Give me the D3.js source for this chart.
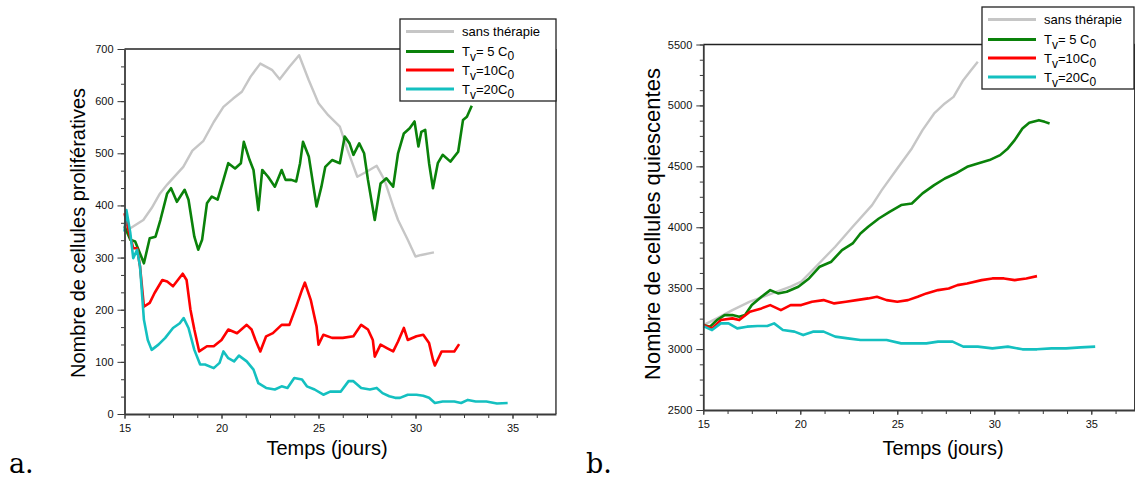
<!DOCTYPE html>
<html>
<head>
<meta charset="utf-8">
<script src="https://cdn.jsdelivr.net/npm/d3@7"></script>
<style>
  html, body { margin: 0; padding: 0; background: #fff; }
  svg { display: block; font-family: "Liberation Sans", Arial, sans-serif; }
</style>
</head>
<body>
<svg id="chart" width="1135" height="479"></svg>
<script>
// ---------- DATA ----------
const seriesNames = ["sans thérapie", "Tv= 5 C0", "Tv=10C0", "Tv=20C0"];
const seriesColors = ["#c6c6c6", "#0a820a", "#ff0000", "#14c0c0"];

const xTicks = [15, 20, 25, 30, 35];
const yTicksA = [0, 100, 200, 300, 400, 500, 600, 700];
const yTicksB = [2500, 3000, 3500, 4000, 4500, 5000, 5500];

// Panel a: proliferative cells
const tA_grey = [15.2,15.97,16.4,16.83,17.2,18.03,18.5,19.07,19.6,20.1,20.6,21.05,21.5,22.0,22.6,23.0,23.5,24.0,24.5,25.0,25.5,26.1,26.5,27.0,27.5,28.0,28.4,28.85,29.1,29.6,30.0,30.3,30.95];
const vA_grey = [354,372,395,423,440,474,505,524,560,589,605,618,647,672,660,642,666,688,640,596,573,551,506,455,465,476,449,398,372,334,302,305,310];

const tA_green = [15.0,15.3,15.55,15.8,16.0,16.3,16.6,16.85,17.2,17.4,17.7,18.1,18.3,18.6,18.8,19.0,19.25,19.5,19.8,20.1,20.35,20.7,21.0,21.15,21.45,21.65,21.9,22.1,22.4,22.75,23.1,23.3,23.6,23.85,24.05,24.2,24.5,24.9,25.15,25.35,25.7,26.1,26.35,26.6,26.8,27.1,27.35,27.55,27.9,28.2,28.5,28.85,29.1,29.4,29.7,29.95,30.15,30.3,30.5,30.7,30.9,31.15,31.4,31.8,32.2,32.45,32.65,32.9];
const vA_green = [360,334,331,308,289,337,340,372,423,433,407,430,411,340,315,334,404,417,411,449,481,471,481,522,487,468,391,468,455,436,468,449,449,446,481,522,494,398,436,474,487,481,532,519,497,519,500,449,372,442,452,436,500,538,548,561,513,541,545,481,433,481,497,484,503,564,570,591];

const tA_red = [15.0,15.2,15.45,15.65,15.8,16.0,16.3,16.55,16.95,17.2,17.5,17.75,18.0,18.2,18.4,18.6,18.85,19.25,19.6,20.0,20.35,20.8,21.3,21.55,21.75,22.0,22.3,22.65,23.1,23.5,23.85,24.15,24.3,24.6,24.9,25.0,25.25,25.7,26.25,26.8,27.2,27.55,27.8,27.9,28.2,28.55,28.85,29.1,29.4,29.6,30.05,30.4,30.7,30.9,31.0,31.35,31.75,32.0,32.25];
const vA_red = [385,353,318,318,283,206,213,232,257,254,245,257,269,257,200,162,120,130,130,142,162,155,171,162,142,120,149,155,171,171,206,238,252,219,168,133,152,146,146,149,171,162,142,110,133,126,120,139,165,142,149,152,136,104,93,120,120,120,134];

const tA_cyan = [15.0,15.1,15.3,15.45,15.65,15.8,16.0,16.2,16.4,16.75,17.1,17.5,17.85,18.05,18.3,18.6,18.9,19.15,19.6,19.9,20.1,20.35,20.65,20.9,21.3,21.65,21.9,22.3,22.75,23.1,23.4,23.75,24.15,24.4,24.8,25.25,25.6,26.15,26.55,26.8,27.2,27.65,28.0,28.3,28.65,28.95,29.2,29.6,30.05,30.4,30.7,31.0,31.4,32.0,32.35,32.7,33.1,33.65,34.2,34.75];
const vA_cyan = [350,391,347,299,315,283,181,142,123,133,146,165,174,184,165,123,95,95,88,98,120,107,101,112,101,85,59,50,47,53,50,69,66,53,47,37,43,43,63,63,50,47,50,40,34,31,31,37,37,35,31,21,24,24,21,27,24,24,20,21];

// Panel b: quiescent cells
const tB_grey = [15.0,15.7,16.5,17.4,18.55,19.5,20.05,20.8,21.8,22.7,23.7,24.2,25.0,25.75,26.3,26.9,27.45,27.9,28.4,28.8,29.15];
const vB_grey = [3197,3252,3320,3389,3457,3512,3553,3676,3840,4004,4182,4305,4482,4647,4797,4934,5016,5070,5207,5289,5358];

const tB_green = [15.0,15.35,15.7,16.1,16.5,16.85,17.15,17.5,18.0,18.45,18.85,19.3,19.9,20.45,21.0,21.6,22.15,22.7,23.1,23.5,24.05,24.6,25.2,25.75,26.3,26.9,27.45,28.0,28.6,29.15,29.75,30.3,30.7,31.05,31.45,31.8,32.3,32.6,32.85];
const vB_green = [3197,3184,3238,3279,3279,3266,3279,3361,3430,3484,3457,3471,3512,3580,3676,3717,3813,3867,3949,4004,4072,4127,4182,4195,4278,4346,4400,4441,4496,4524,4551,4592,4647,4715,4811,4857,4879,4865,4852];

const tB_red = [15.0,15.45,15.9,16.5,16.85,17.4,18.0,18.45,19.0,19.5,20.05,20.6,21.2,21.75,22.35,22.9,23.5,23.95,24.45,25.0,25.55,26.05,26.5,27.1,27.65,28.1,28.6,29.35,29.9,30.5,31.05,31.65,32.2];
const vB_red = [3197,3170,3238,3252,3238,3307,3334,3361,3320,3361,3361,3389,3402,3375,3389,3402,3416,3430,3402,3389,3402,3430,3457,3484,3498,3525,3539,3566,3580,3580,3566,3580,3599];

const tB_cyan = [15.0,15.45,15.9,16.3,16.75,17.25,17.8,18.3,18.65,19.1,19.7,20.15,20.65,21.2,21.8,22.45,23.1,23.85,24.45,25.2,25.95,26.5,27.1,27.85,28.4,29.15,29.9,30.7,31.45,32.2,32.95,33.7,34.45,35.2];
const vB_cyan = [3189,3156,3211,3211,3170,3184,3189,3189,3211,3156,3143,3115,3143,3143,3102,3088,3074,3074,3074,3047,3047,3047,3061,3061,3020,3020,3006,3020,2998,2998,3006,3006,3014,3020];

// ---------- DRAWING ----------
const svg = d3.select("#chart");
const axisColor = "#3a3a3a";
const sans = "'Liberation Sans', Arial, sans-serif";

function zip(t, v) { return t.map((x, i) => ({ t: x, v: v[i] })); }

function panel(cfg) {
  const x = d3.scaleLinear().domain([15, 37.24]).range([cfg.x0, cfg.x0 + 22.24 * 19.4]);
  const y = d3.scaleLinear().domain(cfg.yDomain).range([cfg.yBottom, cfg.yTop]);
  const g = svg.append("g");

  // frame: top and right borders
  g.append("line").attr("x1", x(15)).attr("x2", x(37.24)).attr("y1", cfg.yTop).attr("y2", cfg.yTop)
    .attr("stroke", "#222").attr("stroke-width", 1.3);
  g.append("line").attr("x1", x(37.24)).attr("x2", x(37.24)).attr("y1", cfg.yTop).attr("y2", cfg.yBottom)
    .attr("stroke", "#222").attr("stroke-width", 1.3);

  // series
  const line = d3.line().x(d => x(d.t)).y(d => y(d.v));
  cfg.series.forEach((s, i) => {
    g.append("path").datum(zip(s[0], s[1])).attr("d", line)
      .attr("fill", "none").attr("stroke", seriesColors[i])
      .attr("stroke-width", i === 0 ? 2.4 : 2.6)
      .attr("stroke-linejoin", "round");
  });

  // minor y ticks
  const minorY = d3.range(cfg.yDomain[0], cfg.yDomain[1] + 0.01, cfg.minorStep);
  g.append("g").attr("transform", `translate(${cfg.x0},0)`)
    .call(d3.axisLeft(y).tickValues(minorY).tickSize(3.5).tickFormat(""))
    .call(a => a.select(".domain").remove())
    .call(a => a.selectAll("line").attr("stroke", axisColor).attr("stroke-width", 1));
  // major y ticks
  g.append("g").attr("transform", `translate(${cfg.x0},0)`)
    .call(d3.axisLeft(y).tickValues(cfg.yTicks).tickFormat(d3.format("d")).tickSize(7).tickSizeOuter(0).tickPadding(4))
    .call(a => a.select(".domain").attr("stroke", axisColor).attr("stroke-width", 1.8))
    .call(a => a.selectAll("line").attr("stroke", axisColor).attr("stroke-width", 1))
    .call(a => a.selectAll("text").attr("font-size", 11).attr("fill", "#111").style("font-family", sans));

  // minor x ticks
  const minorX = d3.range(15, 37, 1.25);
  g.append("g").attr("transform", `translate(0,${cfg.yBottom})`)
    .call(d3.axisBottom(x).tickValues(minorX).tickSize(4).tickFormat(""))
    .call(a => a.select(".domain").remove())
    .call(a => a.selectAll("line").attr("stroke", axisColor).attr("stroke-width", 1));
  // major x
  g.append("g").attr("transform", `translate(0,${cfg.yBottom})`)
    .call(d3.axisBottom(x).tickValues(xTicks).tickFormat(d3.format("d")).tickSize(5).tickSizeOuter(0).tickPadding(5))
    .call(a => a.select(".domain").attr("stroke", axisColor).attr("stroke-width", 1.8))
    .call(a => a.selectAll("line").attr("stroke", axisColor).attr("stroke-width", 1))
    .call(a => a.selectAll("text").attr("font-size", 11).attr("fill", "#111").style("font-family", sans));

  // axis titles
  svg.append("text").attr("x", cfg.xlabX).attr("y", 455).attr("text-anchor", "middle")
    .style("font-family", sans).attr("font-size", 20).attr("fill", "#000").text("Temps (jours)");
  svg.append("text").attr("transform", `translate(${cfg.ylabX},${cfg.ylabY}) rotate(-90)`)
    .attr("text-anchor", "middle").attr("dy", "0.35em").style("font-family", sans)
    .attr("font-size", cfg.ylabSize).attr("fill", "#000").text(cfg.ylab);

  // legend
  const L = cfg.legend;
  const lg = svg.append("g").attr("transform", `translate(${L.x},${L.y})`);
  lg.append("rect").attr("x", 0).attr("y", 0).attr("width", L.w).attr("height", L.h)
    .attr("fill", "#fff").attr("stroke", "#222").attr("stroke-width", 1.3);
  const rows = [12.5, 32.5, 51, 70];
  rows.forEach((ry, i) => {
    lg.append("line").attr("x1", 6).attr("x2", 54).attr("y1", ry).attr("y2", ry)
      .attr("stroke", seriesColors[i]).attr("stroke-width", 3);
    const tx = lg.append("text").attr("x", 62).attr("y", ry + 4.5).attr("font-size", 13)
      .style("font-family", sans).attr("fill", "#000");
    if (i === 0) {
      tx.text(seriesNames[0]);
    } else {
      const num = i === 1 ? "= 5 C" : (i === 2 ? "=10C" : "=20C");
      tx.append("tspan").text("T");
      tx.append("tspan").attr("font-size", 12).attr("dy", 5).text("v");
      tx.append("tspan").attr("dy", -5).text(num);
      tx.append("tspan").attr("font-size", 12).attr("dy", 4).text("0");
    }
  });

  // panel letter
  svg.append("text").attr("x", cfg.letterX).attr("y", 473)
    .style("font-family", "'DejaVu Serif', 'Liberation Serif', serif").attr("font-size", 27)
    .attr("fill", "#000").text(cfg.letter);
}

panel({
  x0: 124.5, yTop: 49, yBottom: 414, yDomain: [0, 700], yTicks: yTicksA, minorStep: 100 / 3,
  series: [[tA_grey, vA_grey], [tA_green, vA_green], [tA_red, vA_red], [tA_cyan, vA_cyan]],
  xlabX: 327, ylabX: 78, ylabY: 233, ylabSize: 20, ylab: "Nombre de cellules prolifératives",
  legend: { x: 400, y: 19, w: 156, h: 82 }, letter: "a.", letterX: 9
});

panel({
  x0: 703.3, yTop: 44.5, yBottom: 410, yDomain: [2500, 5500], yTicks: yTicksB, minorStep: 125,
  series: [[tB_grey, vB_grey], [tB_green, vB_green], [tB_red, vB_red], [tB_cyan, vB_cyan]],
  xlabX: 943, ylabX: 652, ylabY: 224, ylabSize: 22, ylab: "Nombre de cellules quiescentes",
  legend: { x: 982, y: 7, w: 152, h: 82 }, letter: "b.", letterX: 586
});
</script>
</body>
</html>
